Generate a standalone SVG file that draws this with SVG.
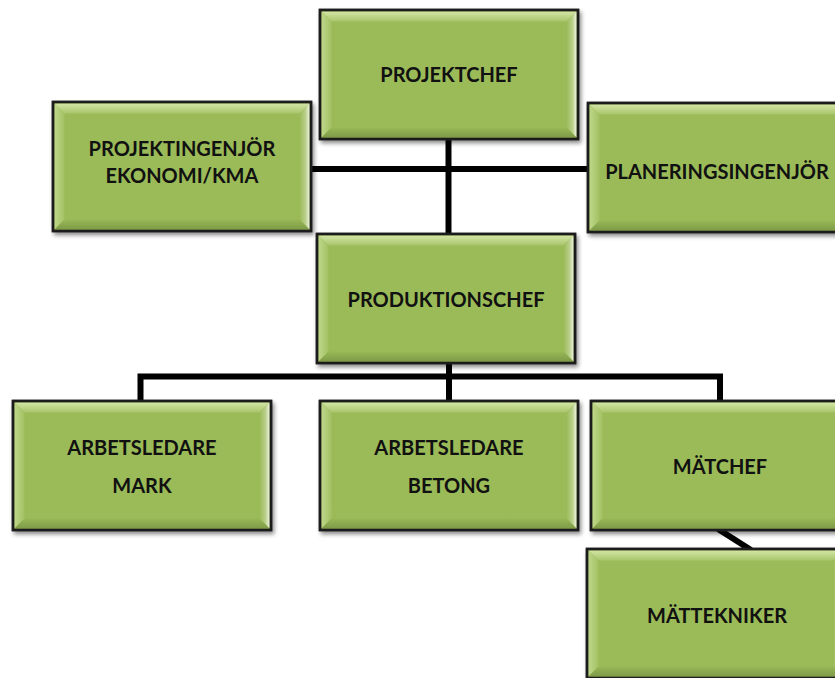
<svg xmlns="http://www.w3.org/2000/svg" xmlns:xlink="http://www.w3.org/1999/xlink" width="835" height="678" viewBox="0 0 835 678">
  <style>
    .lbl { font-family: Lato, "Liberation Sans", Arial, sans-serif; font-weight: bold; font-size: 20px; fill: #111; text-anchor: middle; }
    .wire { fill: none; stroke: #000; stroke-width: 6; stroke-linejoin: miter; stroke-linecap: butt; }
  </style>
  <defs>
    <linearGradient id="gTop" x1="0" y1="0" x2="0" y2="1">
      <stop offset="0" stop-color="#d3e5a6"/>
      <stop offset="1" stop-color="#a8c56a"/>
    </linearGradient>
    <linearGradient id="gLeft" x1="0" y1="0" x2="1" y2="0">
      <stop offset="0" stop-color="#bed78a"/>
      <stop offset="1" stop-color="#a3c163"/>
    </linearGradient>
    <linearGradient id="gRight" x1="0" y1="0" x2="1" y2="0">
      <stop offset="0" stop-color="#9bbb59"/>
      <stop offset="0.6" stop-color="#b9d08a"/>
      <stop offset="1" stop-color="#eef4e2"/>
    </linearGradient>
    <linearGradient id="gBottom" x1="0" y1="0" x2="0" y2="1">
      <stop offset="0" stop-color="#98b857"/>
      <stop offset="1" stop-color="#7e9b47"/>
    </linearGradient>
    <filter id="shadow" x="-10%" y="-10%" width="125%" height="130%">
      <feDropShadow dx="2" dy="3" stdDeviation="2" flood-color="#000" flood-opacity="0.45"/>
    </filter>
    <!-- bevelled green card, 258 x 129 -->
    <g id="card">
      <rect x="0" y="0" width="258" height="129" fill="#9bbb59" stroke="#1c1c1c" stroke-width="2.5" filter="url(#shadow)"/>
      <polygon points="1.5,1.5 256.5,1.5 246.5,11.5 11.5,11.5" fill="url(#gTop)"/>
      <polygon points="1.5,1.5 11.5,11.5 11.5,117.5 1.5,127.5" fill="url(#gLeft)"/>
      <polygon points="256.5,1.5 256.5,127.5 246.5,117.5 246.5,11.5" fill="url(#gRight)"/>
      <polygon points="1.5,127.5 256.5,127.5 246.5,117.5 11.5,117.5" fill="url(#gBottom)"/>
      <rect x="0" y="0" width="258" height="129" fill="none" stroke="#1c1c1c" stroke-width="2.5"/>
    </g>
  </defs>

  <rect x="0" y="0" width="835" height="678" fill="#fff"/>

  <!-- reporting lines -->
  <g id="connectors">
    <path class="wire" d="M448.5,136 V236"/>
    <path class="wire" d="M309,169 H590"/>
    <path class="wire" d="M449,361 V403"/>
    <path class="wire" d="M140.5,403 V376.5 H720 V403"/>
    <path class="wire" d="M718,529 L751,550"/>
  </g>

  <g id="projektchef">
    <use xlink:href="#card" x="320" y="10"/>
    <text class="lbl" x="449" y="82">PROJEKTCHEF</text>
  </g>

  <g id="projektingenjor">
    <use xlink:href="#card" x="53" y="102"/>
    <text class="lbl" x="182" y="156">PROJEKTINGENJÖR</text>
    <text class="lbl" x="182" y="183">EKONOMI/KMA</text>
  </g>

  <g id="planeringsingenjor">
    <use xlink:href="#card" x="588" y="103"/>
    <text class="lbl" x="717" y="179">PLANERINGSINGENJÖR</text>
  </g>

  <g id="produktionschef">
    <use xlink:href="#card" x="317" y="234"/>
    <text class="lbl" x="446" y="307">PRODUKTIONSCHEF</text>
  </g>

  <g id="arbetsledare-mark">
    <use xlink:href="#card" x="13" y="401"/>
    <text class="lbl" x="142" y="455">ARBETSLEDARE</text>
    <text class="lbl" x="142" y="493">MARK</text>
  </g>

  <g id="arbetsledare-betong">
    <use xlink:href="#card" x="320" y="401"/>
    <text class="lbl" x="449" y="455">ARBETSLEDARE</text>
    <text class="lbl" x="449" y="493">BETONG</text>
  </g>

  <g id="matchef">
    <use xlink:href="#card" x="591" y="401"/>
    <text class="lbl" x="720" y="474">MÄTCHEF</text>
  </g>

  <g id="mattekniker">
    <use xlink:href="#card" x="587" y="549"/>
    <text class="lbl" x="717" y="623">MÄTTEKNIKER</text>
  </g>
</svg>
